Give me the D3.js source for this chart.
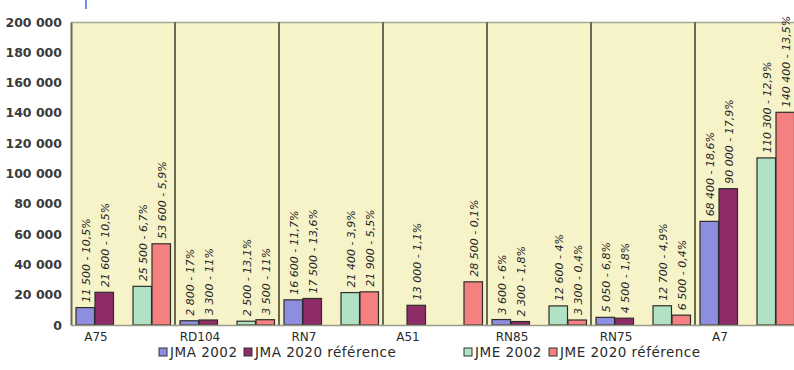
<!DOCTYPE html>
<html>
<head>
<meta charset="utf-8">
<script src="https://cdn.jsdelivr.net/npm/d3@7"></script>
<style>
  html, body { margin: 0; padding: 0; background: #ffffff; }
  svg { display: block; }
  text { font-family: "DejaVu Sans", Verdana, sans-serif; }
</style>
</head>
<body>
<svg id="chart" width="794" height="370"></svg>
<script>
// Trafic journalier par axe routier
const categories = ["A75", "RD104", "RN7", "A51", "RN85", "RN75", "A7"];

const jma2002    = [11500, 2800, 16600, null, 3600, 5050, 68400];
const jma2002Pct = ["10,5%", "17%", "11,7%", null, "6%", "6,8%", "18,6%"];
const jma2020    = [21600, 3300, 17500, 13000, 2300, 4500, 90000];
const jma2020Pct = ["10,5%", "11%", "13,6%", "1,1%", "1,8%", "1,8%", "17,9%"];
const jme2002    = [25500, 2500, 21400, null, 12600, 12700, 110300];
const jme2002Pct = ["6,7%", "13,1%", "3,9%", null, "4%", "4,9%", "12,9%"];
const jme2020    = [53600, 3500, 21900, 28500, 3300, 6500, 140400];
const jme2020Pct = ["5,9%", "11%", "5,5%", "0,1%", "0,4%", "0,4%", "13,5%"];

const seriesNames = ["JMA 2002", "JMA 2020 référence", "", "JME 2002", "JME 2020 référence"];
const yTicks = [0, 20000, 40000, 60000, 80000, 100000, 120000, 140000, 160000, 180000, 200000];

const series = [
  { key: "JMA 2002", values: jma2002, pct: jma2002Pct, color: "#8e8ee0" },
  { key: "JMA 2020 référence", values: jma2020, pct: jma2020Pct, color: "#8e2c68" },
  { key: "", values: categories.map(() => null), pct: [], color: "none" },
  { key: "JME 2002", values: jme2002, pct: jme2002Pct, color: "#b2e2c6" },
  { key: "JME 2020 référence", values: jme2020, pct: jme2020Pct, color: "#f58080" }
];

const svg = d3.select("#chart");
const plot = { left: 71, right: 799, top: 22, bottom: 325 };

const x = d3.scaleBand().domain(categories).range([plot.left, plot.right]).paddingInner(0).paddingOuter(0);
const xSub = d3.scaleBand().domain(seriesNames).range([0, x.bandwidth()]).paddingInner(0).paddingOuter(0.237);
const y = d3.scaleLinear().domain([0, 200000]).range([plot.bottom, plot.top]);

const fmt = v => d3.format(",")(v).replace(/,/g, " ");

// plot background
svg.append("rect")
  .attr("x", plot.left).attr("y", plot.top)
  .attr("width", plot.right - plot.left).attr("height", plot.bottom - plot.top)
  .attr("fill", "#f7f3c9");

// top border
svg.append("line")
  .attr("x1", plot.left).attr("x2", plot.right)
  .attr("y1", plot.top + 0.5).attr("y2", plot.top + 0.5)
  .attr("stroke", "#a8a898").attr("stroke-width", 1.5);

// category separators
svg.append("g").selectAll("line")
  .data(categories.slice(1))
  .join("line")
  .attr("x1", d => x(d)).attr("x2", d => x(d))
  .attr("y1", plot.top).attr("y2", plot.bottom)
  .attr("stroke", "#6a6a52").attr("stroke-width", 2);

// bars and value labels
const groups = svg.append("g").selectAll("g")
  .data(categories)
  .join("g")
  .attr("transform", d => `translate(${x(d)},0)`);

series.forEach(s => {
  if (s.key === "") return;
  groups.each(function(cat, i) {
    const v = s.values[i];
    if (v == null) return;
    const g = d3.select(this);
    const bx = xSub(s.key);
    g.append("rect")
      .attr("x", bx + 0.5)
      .attr("y", y(v))
      .attr("width", xSub.bandwidth() - 0.5)
      .attr("height", y(0) - y(v))
      .attr("fill", s.color)
      .attr("stroke", "#2e2e2a")
      .attr("stroke-width", 1.2);
    const cx = bx + xSub.bandwidth() / 2 + 1;
    const ty = y(v) - 5;
    g.append("text")
      .attr("transform", `translate(${cx},${ty}) rotate(-90)`)
      .attr("dy", "0.35em")
      .attr("text-anchor", "start")
      .attr("font-size", 11)
      .attr("font-style", "italic")
      .attr("fill", "#262626")
      .text(`${fmt(v)} - ${s.pct[i]}`);
  });
});

// y axis
const yAxis = d3.axisLeft(y).tickValues(yTicks).tickSize(0).tickPadding(9).tickFormat(fmt);
const ya = svg.append("g").attr("transform", `translate(${plot.left},0)`).call(yAxis);
ya.select(".domain").attr("stroke", "#6a6a52").attr("stroke-width", 2);
ya.selectAll("text")
  .attr("font-size", 12.5)
  .attr("font-weight", "bold")
  .attr("font-family", "DejaVu Sans, sans-serif")
  .attr("fill", "#3a3a3a");

// x axis: labels sit left of the band centre
const xAxis = d3.axisBottom(x).tickSize(0).tickPadding(7);
const xa = svg.append("g").attr("transform", `translate(0,${plot.bottom})`).call(xAxis);
xa.select(".domain").attr("stroke", "#9a9a8a").attr("stroke-width", 1.5);
xa.selectAll("text")
  .attr("x", -27)
  .attr("font-size", 12)
  .attr("font-family", "DejaVu Sans Condensed, DejaVu Sans, sans-serif")
  .attr("fill", "#2a2a2a");

// legend
const legendX = [159, 244, null, 464, 549];
const legend = svg.append("g");
series.forEach((s, i) => {
  if (s.key === "") return;
  const lx = legendX[i];
  legend.append("rect")
    .attr("x", lx).attr("y", 348)
    .attr("width", 8).attr("height", 8)
    .attr("fill", s.color).attr("stroke", "#333").attr("stroke-width", 1);
  legend.append("text")
    .attr("x", lx + 11).attr("y", 357)
    .attr("font-size", 13.5)
    .attr("letter-spacing", 0.5)
    .attr("font-family", "DejaVu Sans, sans-serif")
    .attr("fill", "#2a2a2a")
    .text(s.key);
});

// small marker at top edge
svg.append("line")
  .attr("x1", 86).attr("x2", 86).attr("y1", 0).attr("y2", 9)
  .attr("stroke", "#3a6fd0").attr("stroke-width", 1.5);
</script>
</body>
</html>
